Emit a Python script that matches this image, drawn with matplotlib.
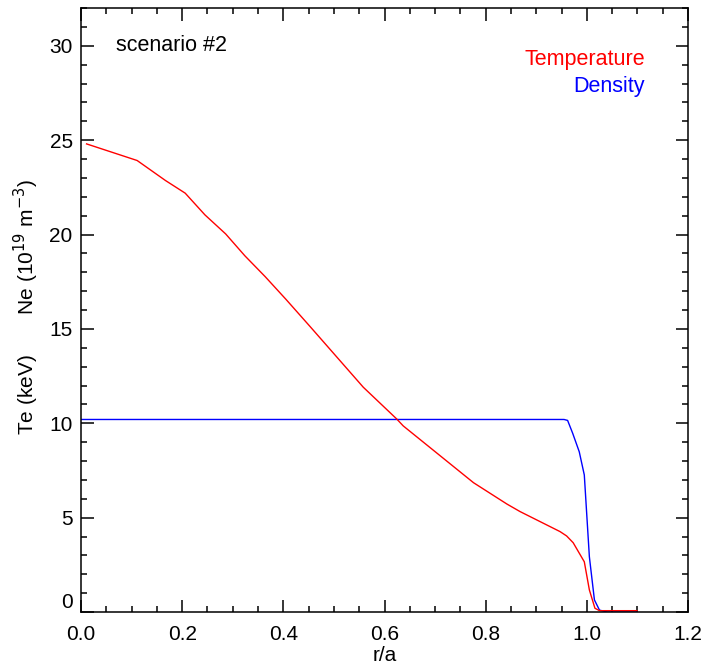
import numpy as np
import matplotlib.pyplot as plt
from matplotlib.ticker import MultipleLocator

plt.rcParams['font.family'] = ['Liberation Sans', 'DejaVu Sans']

# temperature profile (keV) vs r/a
r_te = [0.011, 0.111, 0.167, 0.206, 0.245, 0.286, 0.324, 0.364, 0.405, 0.453,
        0.558, 0.624, 0.637, 0.776, 0.842, 0.868, 0.947, 0.960, 0.973, 0.995,
        1.005, 1.016, 1.025, 1.099]
te = [24.8, 23.92, 22.86, 22.19, 21.04, 20.03, 18.87, 17.77, 16.57, 15.12,
      11.91, 10.23, 9.86, 6.85, 5.72, 5.32, 4.26, 4.03, 3.67, 2.66,
      1.17, 0.2, 0.07, 0.07]

# density profile (1e19 m^-3) vs r/a
r_ne = [0.0, 0.955, 0.962, 0.972, 0.985, 0.995, 1.005, 1.015, 1.025, 1.04, 1.099]
ne = [10.2, 10.2, 10.15, 9.47, 8.49, 7.26, 2.93, 0.64, 0.1, 0.0, 0.0]

xticks = [0.0, 0.2, 0.4, 0.6, 0.8, 1.0, 1.2]
xlabels = ['0.0', '0.2', '0.4', '0.6', '0.8', '1.0', '1.2']
yticks = [0, 5, 10, 15, 20, 25, 30]

fig = plt.figure(figsize=(7.05, 6.65), dpi=100)
ax = fig.add_axes([81/705, 1 - 612/665, 607/705, 604/665])

ax.plot(r_ne, ne, color='blue', lw=1.0)
ax.plot(r_te, te, color='red', lw=1.0)

ax.set_xlim(0, 1.2)
ax.set_ylim(0, 32)
ax.set_xticks(xticks)
ax.set_xticklabels(xlabels)
ax.set_yticks(yticks)
ax.xaxis.set_minor_locator(MultipleLocator(0.05))
ax.yaxis.set_minor_locator(MultipleLocator(1))
ax.tick_params(which='both', direction='in', top=True, right=True, width=1.1)
ax.tick_params(which='major', length=9, labelsize=15, pad=6)
ax.tick_params(which='minor', length=4.5)
ax.tick_params(axis='x', pad=9)
for s in ax.spines.values():
    s.set_linewidth(1.1)
# IDL style: the zero label sits above the bottom axis
ax.get_yticklabels()[0].set_verticalalignment('bottom')

ax.set_xlabel('r/a', fontsize=15, labelpad=2)
fig.text(26/705, 1 - 307/665, r'Te (keV)       Ne (10$^{19}$ m$^{-3}$)',
         rotation=90, fontsize=15, ha='center', va='center')

ax.text(0.069, 30, 'scenario #2', fontsize=15.5, va='center')
ax.text(1.115, 29.25, 'Temperature', color='red', fontsize=15.5, ha='right', va='center')
ax.text(1.115, 27.85, 'Density', color='blue', fontsize=15.5, ha='right', va='center')

fig.savefig('out.png', dpi=100)
